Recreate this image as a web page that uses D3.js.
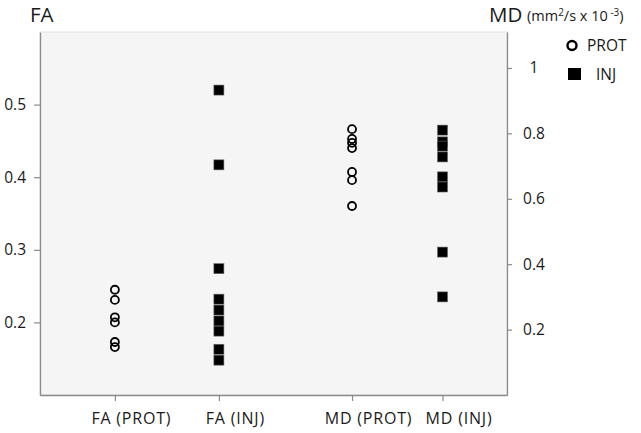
<!DOCTYPE html>
<html><head><meta charset="utf-8">
<script src="https://cdn.jsdelivr.net/npm/d3@7"></script>
<style>body{margin:0;background:#fff} svg text{font-family:'Open Sans',sans-serif;fill:#1a1a1a}</style>
</head><body><svg id="c" width="641" height="433"></svg>
<script>
const categories = ["FA (PROT)", "FA (INJ)", "MD (PROT)", "MD (INJ)"];
const categoryPos = [1, 2, 3.28, 4.15];
const faProt = [0.245, 0.231, 0.207, 0.200, 0.173, 0.166];
const faInj = [0.520, 0.417, 0.274, 0.232, 0.217, 0.202, 0.188, 0.163, 0.148];
const mdProt = [0.813, 0.783, 0.771, 0.755, 0.682, 0.657, 0.578];
const mdInj = [0.810, 0.774, 0.761, 0.728, 0.667, 0.636, 0.437, 0.300];
const faTicks = [0.2, 0.3, 0.4, 0.5];
const mdTicks = [0.2, 0.4, 0.6, 0.8, 1];
const legendItems = ["PROT", "INJ"];

const svg = d3.select("#c");
const L = 40, R = 507, T = 32, B = 395;
const x = d3.scaleLinear().domain([0.28, 4.77]).range([L, R]);
const yFA = d3.scaleLinear().domain([0.1, 0.6]).range([B, T]);
const yMD = d3.scaleLinear().domain([0, 1.11]).range([B, T]);
const axisColor = "#8a8a8a";

svg.append("rect").attr("x", L).attr("y", T).attr("width", R - L).attr("height", B - T)
  .attr("fill", "#f5f5f5").attr("stroke", "#e2e2e2");

// left axis
const gl = svg.append("g").attr("transform", `translate(${L},0)`)
  .call(d3.axisLeft(yFA).tickValues(faTicks).tickSize(6).tickSizeOuter(0).tickPadding(8).tickFormat(d3.format(".1f")));
// right axis
const gr = svg.append("g").attr("transform", `translate(${R},0)`)
  .call(d3.axisRight(yMD).tickValues(mdTicks).tickSize(5).tickSizeOuter(0).tickPadding(10)
    .tickFormat(d => d === 1 ? "1" : d3.format(".1f")(d)));
gr.selectAll(".tick text").attr("text-anchor", "middle").attr("x", 27);
// bottom axis
const gb = svg.append("g").attr("transform", `translate(0,${B})`)
  .call(d3.axisBottom(x).tickValues(categoryPos).tickSize(6).tickSizeOuter(0)
    .tickFormat((d, i) => categories[i]));
gb.selectAll(".tick text").attr("y", 18).attr("dx", 16);

[gl, gr, gb].forEach(g => {
  g.select(".domain").attr("stroke", axisColor).attr("stroke-width", 1.3);
  g.selectAll(".tick line").attr("stroke", axisColor).attr("stroke-width", 1.2);
  g.selectAll(".tick text").style("font-size", "15.5px").attr("fill", "#1a1a1a");
});
gb.selectAll(".tick text").style("font-size", "16px").style("letter-spacing", "0.8px");

function circles(vals, cat, yS) {
  svg.append("g").selectAll("circle").data(vals).join("circle")
    .attr("cx", x(categoryPos[cat])).attr("cy", d => yS(d)).attr("r", 4)
    .attr("fill", "none").attr("stroke", "#000").attr("stroke-width", 1.8);
}
function squares(vals, cat, yS) {
  const s = 10;
  svg.append("g").selectAll("rect").data(vals).join("rect")
    .attr("x", x(categoryPos[cat]) - s / 2).attr("y", d => yS(d) - s / 2)
    .attr("width", s).attr("height", s).attr("fill", "#000").attr("stroke", "#666").attr("stroke-width", 0.6);
}
circles(faProt, 0, yFA);
squares(faInj, 1, yFA);
circles(mdProt, 2, yMD);
squares(mdInj, 3, yMD);

// titles
svg.append("text").attr("x", 30).attr("y", 22).style("font-size", "20.5px").text("FA");
svg.append("text").attr("x", 489).attr("y", 22).style("font-size", "20.5px").text("MD");
const u = svg.append("text").attr("x", 527).attr("y", 21).style("font-size", "14.5px");
u.append("tspan").text("(mm");
u.append("tspan").attr("dy", -5).style("font-size", "10px").text("2");
u.append("tspan").attr("dy", 5).text("/s x 10");
u.append("tspan").attr("dy", -5).style("font-size", "10px").text(" -3");
u.append("tspan").attr("dy", 5).text(")");

// legend
svg.append("circle").attr("cx", 572).attr("cy", 45.5).attr("r", 4.5)
  .attr("fill", "none").attr("stroke", "#000").attr("stroke-width", 2.4);
svg.append("text").attr("x", 587).attr("y", 51).style("font-size", "15.5px").text(legendItems[0]);
svg.append("rect").attr("x", 568).attr("y", 68).attr("width", 13).attr("height", 12).attr("fill", "#000");
svg.append("text").attr("x", 596).attr("y", 80).style("font-size", "15.5px").text(legendItems[1]);
</script></body></html>
